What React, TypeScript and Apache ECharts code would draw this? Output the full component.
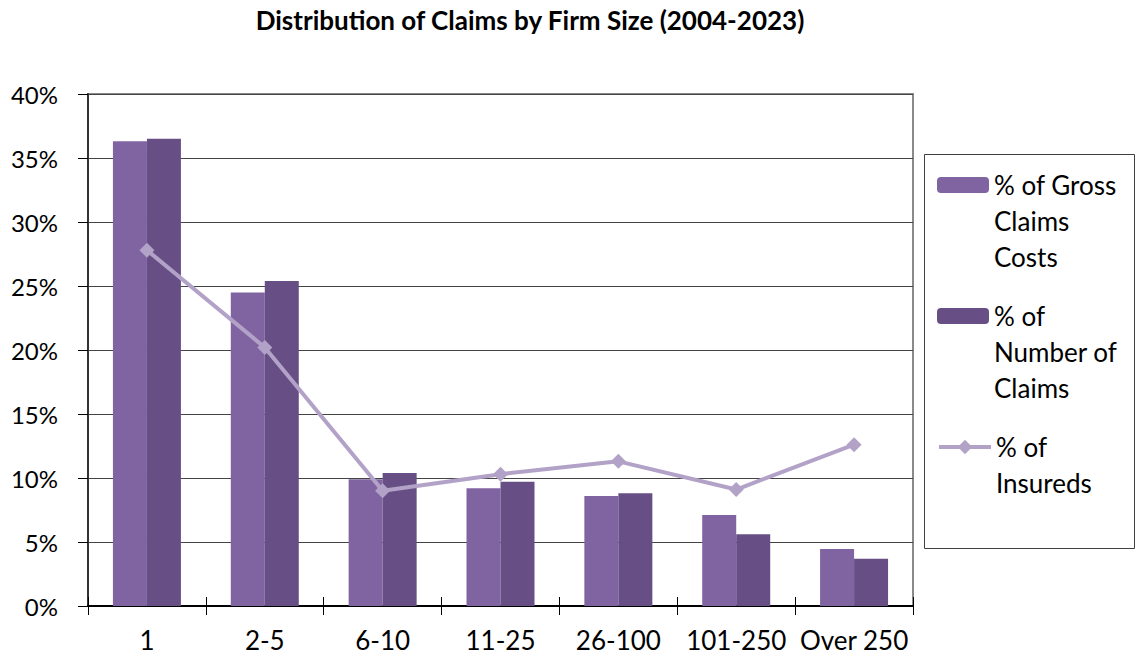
import React, { useEffect, useRef } from "react";
import * as echarts from "echarts";

const categories = ["1", "2-5", "6-10", "11-25", "26-100", "101-250", "Over 250"];
const grossClaimsCosts = [36.3, 24.5, 9.9, 9.2, 8.6, 7.1, 4.45];
const numberOfClaims = [36.5, 25.4, 10.4, 9.7, 8.8, 5.6, 3.7];
const insureds = [27.8, 20.2, 9.0, 10.3, 11.3, 9.1, 12.6];
const seriesNames = ["% of Gross Claims Costs", "% of Number of Claims", "% of Insureds"];
const legendLabels = ["\n\n% of Gross\nClaims\nCosts", "\n\n% of\nNumber of\nClaims", "\n% of\nInsureds"];

const FONT = "Lato, 'Noto Sans', sans-serif";

export default function App() {
  const ref = useRef<HTMLDivElement>(null);
  useEffect(() => {
    if (!ref.current) return;
    const chart = echarts.init(ref.current, null, { renderer: "svg" });
    const legendText = {
      fontSize: 26,
      fontFamily: FONT,
      color: "#000",
      lineHeight: 36,
    };
    chart.setOption({
      animation: false,
      backgroundColor: "#fff",
      textStyle: { fontFamily: FONT },
      graphic: [
        {
          type: "text",
          x: 530,
          y: 20,
          style: {
            text: "Distribution of Claims by Firm Size (2004-2023)",
            fontSize: 26,
            fontWeight: "bold",
            fontFamily: FONT,
            fill: "#000",
            align: "center",
            verticalAlign: "middle",
          },
        },
        {
          type: "rect",
          shape: { x: 924.5, y: 154.5, width: 210, height: 394 },
          style: { fill: "none", stroke: "#404040", lineWidth: 1 },
          z: 0,
        },
      ],
      legend: [
        {
          data: [seriesNames[0]],
          left: 937,
          top: 185 - 90,
          padding: 0,
          itemWidth: 52,
          itemHeight: 16,
          formatter: () => legendLabels[0],
          textStyle: legendText,
        },
        {
          data: [seriesNames[1]],
          left: 937,
          top: 316 - 90,
          padding: 0,
          itemWidth: 52,
          itemHeight: 16,
          formatter: () => legendLabels[1],
          textStyle: legendText,
        },
        {
          data: [seriesNames[2]],
          left: 937,
          top: 447 - 54,
          padding: 0,
          itemWidth: 52,
          itemHeight: 18,
          formatter: () => legendLabels[2],
          textStyle: legendText,
          lineStyle: { width: 4, color: "#B3A2C7" },
        },
      ],
      grid: {
        left: 88,
        right: 223,
        top: 94,
        bottom: 55,
        show: true,
        borderColor: "#8a8a8a",
        borderWidth: 2,
      },
      xAxis: [
        {
          type: "category",
          data: categories,
          axisLine: { lineStyle: { color: "#000", width: 2 } },
          axisTick: { show: true, length: 9, lineStyle: { color: "#000" } },
          axisLabel: { fontSize: 26, color: "#000", margin: 21, fontFamily: FONT, interval: 0 },
        },
        {
          type: "category",
          data: categories,
          position: "bottom",
          axisLine: { show: false },
          axisTick: { show: true, inside: true, length: 9, lineStyle: { color: "#000" } },
          axisLabel: { show: false },
        },
      ],
      yAxis: {
        type: "value",
        min: 0,
        max: 40,
        interval: 5,
        axisLine: { show: true, lineStyle: { color: "#333", width: 2 } },
        axisTick: { show: true, length: 10, lineStyle: { color: "#000" } },
        axisLabel: {
          formatter: "{value}%",
          fontSize: 24,
          color: "#000",
          margin: 30,
          fontFamily: FONT,
        },
        splitLine: { lineStyle: { color: "#444", width: 1 } },
      },
      series: [
        {
          name: seriesNames[0],
          type: "bar",
          data: grossClaimsCosts,
          barWidth: 34,
          barGap: "0%",
          itemStyle: { color: "#8064A2" },
        },
        {
          name: seriesNames[1],
          type: "bar",
          data: numberOfClaims,
          barWidth: 34,
          barGap: "0%",
          itemStyle: { color: "#674F86" },
        },
        {
          name: seriesNames[2],
          type: "line",
          data: insureds,
          symbol: "diamond",
          symbolSize: 15,
          lineStyle: { color: "#B3A2C7", width: 4 },
          itemStyle: { color: "#B3A2C7" },
          z: 5,
        },
      ],
    });
    return () => chart.dispose();
  }, []);
  return (
    <div
      ref={ref}
      style={{ position: "fixed", left: 0, top: 0, width: 1136, height: 661 }}
    />
  );
}
